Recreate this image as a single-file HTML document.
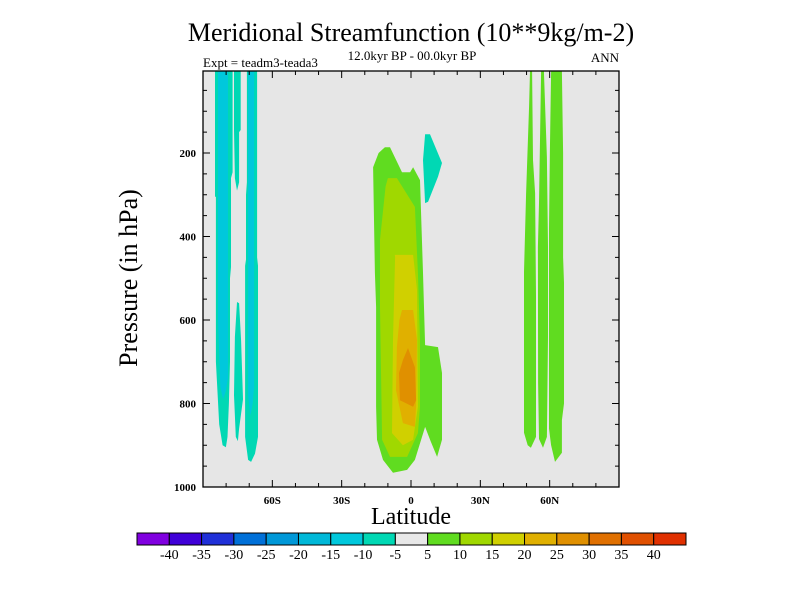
<!DOCTYPE html>
<html><head><meta charset="utf-8"><style>
body{margin:0;background:#fff;}
svg{display:block;font-family:"Liberation Serif",serif;}
</style></head><body>
<svg id="c" width="800" height="600" viewBox="0 0 800 600">
<text x="411" y="41" font-size="26" text-anchor="middle">Meridional Streamfunction (10**9kg/m-2)</text>
<text x="412" y="60" font-size="13" text-anchor="middle">12.0kyr BP - 00.0kyr BP</text>
<text x="203" y="67" font-size="13">Expt = teadm3-teada3</text>
<text x="619" y="62" font-size="13" text-anchor="end">ANN</text>
<text transform="translate(137,278) rotate(-90)" font-size="26" text-anchor="middle">Pressure (in hPa)</text>
<text x="411" y="524" font-size="24" text-anchor="middle">Latitude</text>
<g id="plot"></g>
<g id="cbar"></g>
</svg>
<script>
const NS="http://www.w3.org/2000/svg";
const levelColors=["#8000e0","#4000d8","#2030d8","#0070d8","#0098d8","#00b8d8","#00c8dc","#00d8b4","#e8e8e8","#60dc20","#a0d800","#d0d000","#e0b000","#e09000","#e07000","#e05000","#e03000"];
const levelLabels=["-40","-35","-30","-25","-20","-15","-10","-5","5","10","15","20","25","30","35","40"];
const xTicks=[-60,-30,0,30,60];
const xTickLabels=["60S","30S","0","30N","60N"];
const yTicks=[200,400,600,800,1000];
const regionLevels=[7,6,7,7,7,6,9,9,9,9,10,11,12,13,7];
const regionShapes=[
[[-84.8,0],[-84.8,305],[-84.4,305],[-84.4,700],[-83,850],[-81.5,900],[-80.1,905],[-79.4,880],[-78.8,800],[-78.3,700],[-78.3,500],[-77.9,473],[-77.9,260],[-77.2,246],[-77.2,0]],
[[-83.5,0],[-83.5,600],[-82.5,760],[-81.3,790],[-80.1,770],[-79.2,740],[-79.2,0]],
[[-76.6,0],[-76.6,145],[-76.2,260],[-75.3,290],[-74.4,270],[-74.4,150],[-73.7,145],[-73.7,0]],
[[-75.3,557],[-76.2,640],[-76.6,780],[-75.8,880],[-74.9,890],[-74.4,860],[-72.7,790],[-73.5,650],[-74.4,560]],
[[-71.0,0],[-71.0,270],[-71.4,300],[-71.4,455],[-71.8,470],[-71.8,880],[-70.5,935],[-69.2,940],[-67.5,920],[-66.2,880],[-66.2,470],[-66.6,450],[-66.6,0]],
[[-70.5,0],[-70.5,780],[-69.5,830],[-68.5,800],[-67.9,760],[-67.9,0]],
[[51.5,0],[51.1,87],[49.8,296],[48.9,485],[48.9,870],[50.5,900],[51.9,906],[54.1,880],[54.1,540],[53.7,296],[52.8,217],[52.4,0]],
[[56.3,0],[55.4,320],[54.9,425],[55.0,750],[55.4,885],[57.1,906],[58.8,880],[59.3,640],[59.3,425],[58.8,210],[57.5,0]],
[[60.6,0],[60.1,193],[59.7,380],[59.7,860],[60.6,900],[62.3,940],[65.3,918],[65.3,840],[66.2,800],[66.2,511],[65.8,450],[65.8,200],[65.3,0]],
[[-11.3,186],[-9.1,186],[-3.9,246],[-0.4,246],[0.9,234],[3.9,265],[5.2,487],[6.1,660],[11.7,665],[13.4,727],[13.4,887],[11.3,928],[8.5,890],[6.1,856],[1.7,935],[-1.7,959],[-7.8,966],[-12.1,935],[-14.7,887],[-15.1,808],[-15.1,569],[-15.6,487],[-16.4,234],[-14,200]],
[[-10,260],[-6.1,260],[1.7,329],[3.0,487],[3.9,648],[3.9,808],[3.0,871],[-1.7,928],[-9.1,928],[-12.5,887],[-13.4,569],[-13.4,408],[-11,280]],
[[-7,444],[0.9,444],[2.6,528],[3.0,808],[0.9,887],[-3.5,900],[-8.2,871],[-7.8,648],[-6.9,449]],
[[-3.9,576],[0.9,576],[2.6,648],[2.2,808],[1.7,856],[-3.5,847],[-6.5,768],[-6.1,665],[-5,600]],
[[-1.3,667],[1.7,713],[2.2,792],[0.9,808],[-4.8,792],[-5.2,727],[-3.5,696]],
[[6.1,155],[8.2,155],[13.4,224],[11.7,257],[7.4,317],[6.1,320],[5.2,217]]
];
const PL=203,PR=619,PT=71,PB=487;
const xs=lat=>PL+(lat+90)/180*(PR-PL);
const ys=p=>{const y=487-(1000-p)*0.4175;return Math.max(PT,y);};
function mk(tag,attrs,parent){const e=document.createElementNS(NS,tag);for(const k in attrs)e.setAttribute(k,attrs[k]);parent.appendChild(e);return e;}
const plot=document.getElementById('plot');
const bg=mk('rect',{x:PL,y:PT,width:PR-PL,height:PB-PT,fill:"#e6e6e6"},plot);


regionShapes.forEach((shape,i)=>{
  const poly=mk('polygon',{points:shape.map(d=>xs(d[0]).toFixed(1)+","+ys(d[1]).toFixed(1)).join(" "),fill:levelColors[regionLevels[i]]},plot);
  
  
});
const frame=mk('rect',{x:PL,y:PT,width:PR-PL,height:PB-PT,fill:"none",stroke:"#000","stroke-width":1.3},plot);


for(let lat=-80;lat<=80;lat+=10){
  const len=(lat%30===0)?7:4;
  mk('line',{x1:xs(lat),x2:xs(lat),y1:PB,y2:PB-len,stroke:"#000"},plot);
  mk('line',{x1:xs(lat),x2:xs(lat),y1:PT,y2:PT+len,stroke:"#000"},plot);
}
for(let p=50;p<1000;p+=50){
  const len=(p%200===0)?7:4;
  mk('line',{x1:PL,x2:PL+len,y1:ys(p),y2:ys(p),stroke:"#000"},plot);
  mk('line',{x1:PR,x2:PR-len,y1:ys(p),y2:ys(p),stroke:"#000"},plot);
}
xTicks.forEach((v,i)=>{
  const t=mk('text',{x:xs(v),y:504,"font-size":11,"font-weight":"bold","text-anchor":"middle"},plot);
  t.textContent=xTickLabels[i];
  
  
});
yTicks.forEach(v=>{
  const t=mk('text',{x:196,y:ys(v)+4,"font-size":11,"font-weight":"bold","text-anchor":"end"},plot);
  t.textContent=v;
  
  
});
const cb=document.getElementById('cbar');
const CX=137,CW=549,CY=533,CH=12,bw=CW/levelColors.length;
levelColors.forEach((c,i)=>{
  const r=mk('rect',{x:CX+i*bw,y:CY,width:bw,height:CH,fill:c,stroke:"#000","stroke-width":1},cb);
  
  
});
levelLabels.forEach((l,i)=>{
  const t=mk('text',{x:CX+(i+1)*bw,y:559,"font-size":14,"text-anchor":"middle"},cb);
  t.textContent=l;
  
  
});
</script>
</body></html>
